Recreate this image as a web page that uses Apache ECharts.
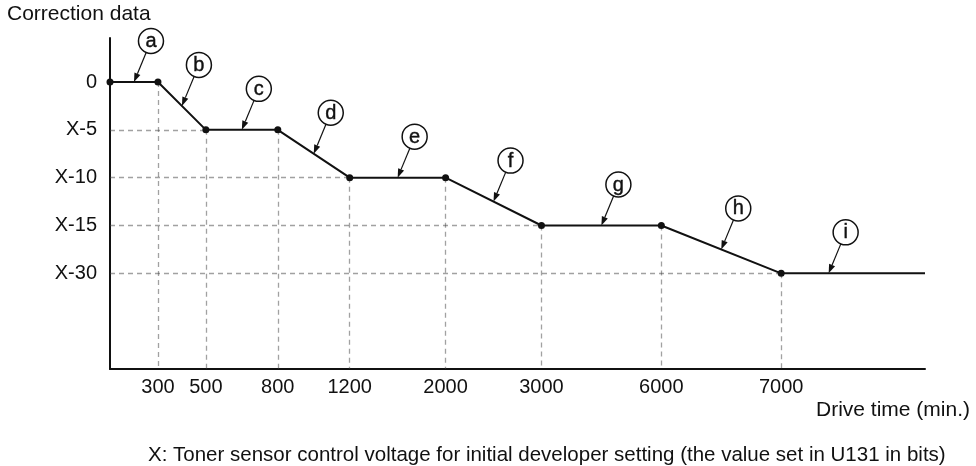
<!DOCTYPE html>
<html>
<head>
<meta charset="utf-8">
<script src="https://cdn.jsdelivr.net/npm/echarts@6/dist/echarts.min.js"></script>
<style>
  html, body { margin: 0; padding: 0; background: #fff; }
  #chart { width: 976px; height: 466px; }
</style>
</head>
<body>
<div id="chart"></div>
<script>
// Breakpoints of the correction schedule
const driveTimes = [0, 300, 500, 800, 1200, 2000, 3000, 6000, 7000];
const correctionValues = [0, 0, -5, -5, -10, -10, -15, -15, -30];
const xTickLabels = ['300', '500', '800', '1200', '2000', '3000', '6000', '7000'];
const yTickLabels = ['0', 'X-5', 'X-10', 'X-15', 'X-30'];
const yTickOffsets = [0, -5, -10, -15, -30];
const segmentLetters = ['a', 'b', 'c', 'd', 'e', 'f', 'g', 'h', 'i'];

// The drive-time axis is not linear: each listed time sits on its own column.
const timeScale = { 0: 0, 300: 2, 500: 4, 800: 7, 1200: 10, 2000: 14, 3000: 18, 6000: 23, 7000: 28 };
const timeAxisEnd = 34;
// The correction axis is ordinal: one row per listed offset.
const levelOf = v => -yTickOffsets.indexOf(v);
const colOf = t => timeScale[t];

const FONT = '"Liberation Sans", Arial, Helvetica, sans-serif';
const INK = '#111';

const points = driveTimes.map((t, i) => [colOf(t), levelOf(correctionValues[i])]);
const linePoints = points.concat([[timeAxisEnd, points[points.length - 1][1]]]);

// dashed guides: down from each breakpoint, across to the first point of each level
const yFloor = -6;
const guides = [];
points.forEach((p, i) => {
  if (i > 0) guides.push({ coords: [[p[0], p[1]], [p[0], yFloor]] });
});
yTickOffsets.forEach((off, k) => {
  if (k === 0) return;
  const i = correctionValues.indexOf(off);
  guides.push({ coords: [[0, points[i][1]], [points[i][0], points[i][1]]] });
});

// one callout per segment
const segments = segmentLetters.map((letter, i) => {
  const a = linePoints[i], b = linePoints[i + 1];
  const frac = i === segmentLetters.length - 1 ? 0.33 : 0.5;
  return [a[0], a[1], b[0], b[1], frac, letter];
});

const chart = echarts.init(document.getElementById('chart'));
chart.setOption({
  animation: false,
  backgroundColor: '#fff',
  textStyle: { fontFamily: FONT },
  title: [
    { text: 'Correction data', left: 7, top: 4, padding: 0,
      textStyle: { fontFamily: FONT, fontSize: 21, fontWeight: 'normal', color: INK } },
    { text: 'Drive time (min.)', right: 6, top: 400, padding: 0,
      textStyle: { fontFamily: FONT, fontSize: 21, fontWeight: 'normal', color: INK } },
    { text: 'X: Toner sensor control voltage for initial developer setting (the value set in U131 in bits)',
      left: 148, top: 445, padding: 0,
      textStyle: { fontFamily: FONT, fontSize: 20.5, fontWeight: 'normal', color: INK } }
  ],
  grid: { left: 110, right: 51, top: 38, bottom: 97, outerBoundsMode: 'none' },
  xAxis: {
    type: 'value', min: 0, max: timeAxisEnd,
    axisLine: { show: true, onZero: false, lineStyle: { color: INK, width: 2 } },
    axisTick: { show: false },
    splitLine: { show: false },
    axisLabel: {
      customValues: xTickLabels.map(s => colOf(+s)),
      formatter: v => {
        const t = driveTimes.find(d => colOf(d) === v);
        return t ? String(t) : '';
      },
      color: INK, fontSize: 20, fontFamily: FONT, margin: 8
    }
  },
  yAxis: {
    type: 'value', min: yFloor, max: 0.92,
    axisLine: { show: true, onZero: false, lineStyle: { color: INK, width: 2 } },
    axisTick: { show: false },
    splitLine: { show: false },
    axisLabel: {
      customValues: yTickOffsets.map(levelOf),
      formatter: v => yTickLabels[-v] !== undefined ? yTickLabels[-v] : '',
      color: INK, fontSize: 20, fontFamily: FONT, margin: 13
    }
  },
  series: [
    {
      type: 'lines', coordinateSystem: 'cartesian2d', silent: true, z: 1,
      lineStyle: { color: '#444', width: 1.3, type: [5, 4] },
      data: guides
    },
    {
      type: 'line', z: 3, silent: true,
      data: linePoints.map((p, i) => ({
        value: p,
        symbol: i < points.length ? 'circle' : 'none'
      })),
      symbolSize: 7,
      itemStyle: { color: INK },
      lineStyle: { color: INK, width: 2 }
    },
    {
      type: 'custom', z: 4, silent: true,
      data: segments,
      encode: { x: [0, 2], y: [1, 3] },
      renderItem: (params, api) => {
        const p0 = api.coord([api.value(0), api.value(1)]);
        const p1 = api.coord([api.value(2), api.value(3)]);
        const f = api.value(4);
        const letter = segments[params.dataIndex][5];
        const tip = [p0[0] + (p1[0] - p0[0]) * f, p0[1] + (p1[1] - p0[1]) * f];
        const dx = 17, dy = -41, r = 12.5;
        const c = [tip[0] + dx, tip[1] + dy];
        const len = Math.hypot(dx, dy);
        const ux = dx / len, uy = dy / len;
        const edge = [c[0] - ux * r, c[1] - uy * r];
        const ah = 9, aw = 3.2;
        const base = [tip[0] + ux * ah, tip[1] + uy * ah];
        const nx = -uy, ny = ux;
        return {
          type: 'group',
          children: [
            { type: 'line', shape: { x1: base[0], y1: base[1], x2: edge[0], y2: edge[1] },
              style: { stroke: INK, lineWidth: 1.2 } },
            { type: 'polygon', shape: { points: [tip,
                [base[0] + nx * aw, base[1] + ny * aw], [base[0] - nx * aw, base[1] - ny * aw]] },
              style: { fill: INK } },
            { type: 'circle', shape: { cx: c[0], cy: c[1], r: r },
              style: { fill: '#fff', stroke: INK, lineWidth: 1.5 } },
            { type: 'text', x: c[0], y: c[1] + 0.5,
              style: { text: letter, fill: INK, font: '20px ' + FONT, align: 'center', verticalAlign: 'middle',
                stroke: INK, lineWidth: 0.4 } }
          ]
        };
      }
    }
  ]
});
</script>
</body>
</html>
